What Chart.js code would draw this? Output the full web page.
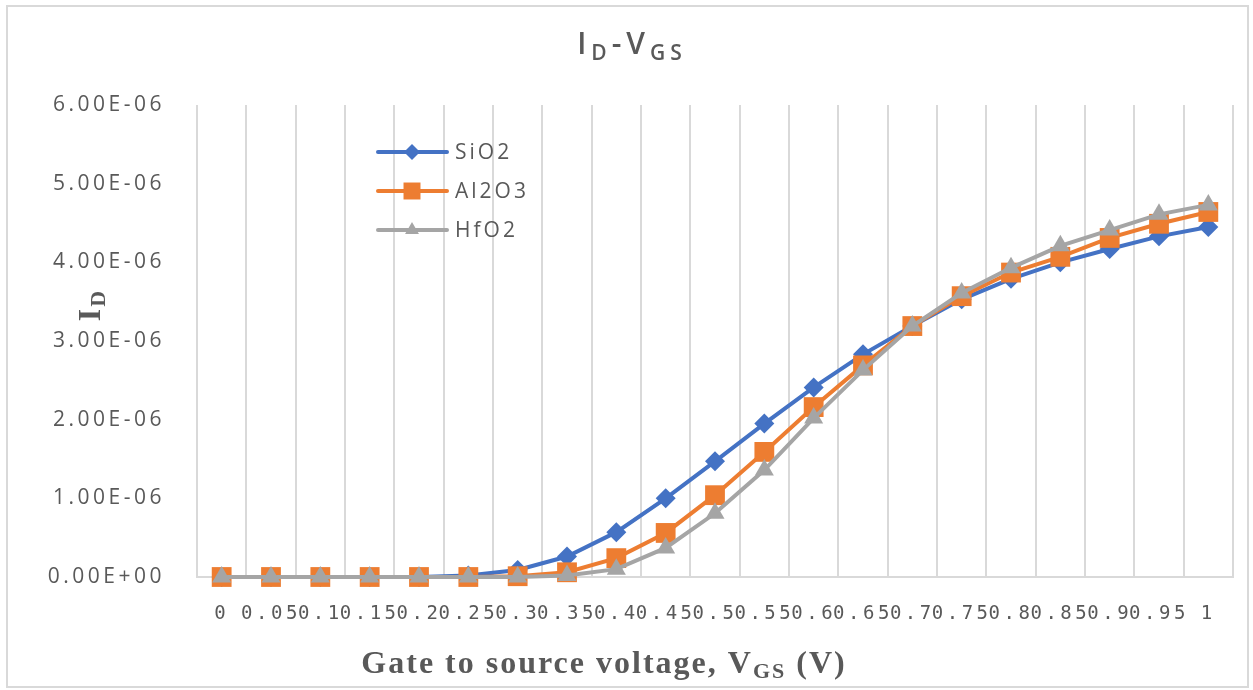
<!DOCTYPE html>
<html>
<head>
<meta charset="utf-8">
<script src="https://cdn.jsdelivr.net/npm/chart.js@4.4.1/dist/chart.umd.min.js"></script>
<style>
  html, body { margin: 0; padding: 0; background: #fff; }
  #wrap { width: 1253px; height: 690px; }
</style>
</head>
<body>
<div id="wrap"><canvas id="chart" width="1253" height="690"></canvas></div>
<script>
// gate voltage steps (V)
const vgs = ['0', '0.05', '0.1', '0.15', '0.2', '0.25', '0.3', '0.35', '0.4', '0.45', '0.5',
             '0.55', '0.6', '0.65', '0.7', '0.75', '0.8', '0.85', '0.9', '0.95', '1'];

// drain current (A) per gate oxide
const sio2 = [0, 0, 0, 0, 0, 0.02e-6, 0.09e-6, 0.26e-6, 0.57e-6, 1.00e-6, 1.47e-6,
              1.95e-6, 2.41e-6, 2.83e-6, 3.19e-6, 3.53e-6, 3.79e-6, 4.00e-6, 4.17e-6, 4.33e-6, 4.45e-6];
const al2o3 = [0, 0, 0, 0, 0, 0, 0.01e-6, 0.06e-6, 0.24e-6, 0.56e-6, 1.04e-6,
               1.59e-6, 2.16e-6, 2.69e-6, 3.19e-6, 3.57e-6, 3.87e-6, 4.07e-6, 4.31e-6, 4.49e-6, 4.64e-6];
const hfo2 = [0, 0, 0, 0, 0, 0, 0, 0.02e-6, 0.10e-6, 0.37e-6, 0.81e-6,
              1.36e-6, 2.02e-6, 2.63e-6, 3.19e-6, 3.61e-6, 3.93e-6, 4.21e-6, 4.41e-6, 4.61e-6, 4.73e-6];

const yTickLabels = ['0.00E+00', '1.00E-06', '2.00E-06', '3.00E-06', '4.00E-06', '5.00E-06', '6.00E-06'];

const textGray = '#595959';
const gridGray = '#d9d9d9';
const blue = '#4472c4', orange = '#ed7d31', silver = '#a5a5a5';

// draws a run of text pieces (for subscripts) centred on cx
function richText(ctx, parts, cx, baseline) {
  let total = 0;
  parts.forEach(p => { ctx.font = p.font; p.w = ctx.measureText(p.text).width; total += p.w; });
  let x = cx - total / 2;
  parts.forEach(p => {
    ctx.font = p.font;
    ctx.fillText(p.text, x, baseline + (p.dy || 0));
    x += p.w;
  });
}

// wide glyph spacing for the axis tick labels
const tickSpacing = {
  id: 'tickSpacing',
  beforeDraw(chart) { chart.ctx.letterSpacing = '3.5px'; },
  beforeDatasetsDraw(chart) { chart.ctx.letterSpacing = '0px'; }
};

const decorations = {
  id: 'decorations',
  afterDraw(chart) {
    const ctx = chart.ctx;
    ctx.save();
    // outer frame
    ctx.strokeStyle = gridGray;
    ctx.lineWidth = 2;
    ctx.strokeRect(7, 6, 1241, 681);

    ctx.fillStyle = textGray;
    ctx.textAlign = 'left';
    ctx.textBaseline = 'alphabetic';

    // title
    ctx.letterSpacing = '5px';
    const tMain = '600 30px "Open Sans"', tSub = '600 21px "Open Sans"';
    richText(ctx, [
      { text: 'I', font: tMain },
      { text: 'D', font: tSub, dy: 6 },
      { text: '-', font: tMain },
      { text: 'V', font: tMain },
      { text: 'GS', font: tSub, dy: 6 }
    ], 632, 54);

    // x axis title
    ctx.letterSpacing = '2px';
    const sMain = 'bold 32px "Liberation Serif"', sSub = 'bold 22px "Liberation Serif"';
    richText(ctx, [
      { text: 'Gate to source voltage, V', font: sMain },
      { text: 'GS', font: sSub, dy: 5 },
      { text: ' (V)', font: sMain }
    ], 604, 673);

    // y axis title
    ctx.save();
    ctx.translate(89, 305);
    ctx.rotate(-Math.PI / 2);
    richText(ctx, [
      { text: 'I', font: sMain },
      { text: 'D', font: sSub, dy: 5 }
    ], 0, 11);
    ctx.restore();

    // legend
    ctx.letterSpacing = '3px';
    ctx.font = '21px "Open Sans"';
    ctx.textBaseline = 'middle';
    const marks = [
      { ds: 0, style: 'rectRot', r: 8 },
      { ds: 1, style: 'rect', r: 12 },
      { ds: 2, style: 'triangle', r: 8 }
    ];
    marks.forEach((m, i) => {
      const ds = chart.data.datasets[m.ds];
      const y = 152 + i * 39;
      ctx.strokeStyle = ds.borderColor;
      ctx.fillStyle = ds.borderColor;
      ctx.lineWidth = 4;
      ctx.lineCap = 'round';
      ctx.beginPath();
      ctx.moveTo(378, y);
      ctx.lineTo(447, y);
      ctx.stroke();
      Chart.helpers.drawPoint(ctx, { pointStyle: m.style, radius: m.r, rotation: 0, borderWidth: 0 }, 412, y);
      ctx.fillStyle = textGray;
      ctx.fillText(ds.label, 455, y + 1);
    });
    ctx.restore();
  }
};

new Chart(document.getElementById('chart'), {
  type: 'line',
  data: {
    labels: vgs,
    datasets: [
      { label: 'SiO2', data: sio2, borderColor: blue, backgroundColor: blue,
        pointStyle: 'rectRot', pointRadius: 10, order: 3, clip: false },
      { label: 'Al2O3', data: al2o3, borderColor: orange, backgroundColor: orange,
        pointStyle: 'rect', pointRadius: 14, order: 2, clip: false },
      { label: 'HfO2', data: hfo2, borderColor: silver, backgroundColor: silver,
        pointStyle: 'triangle', pointRadius: 11, order: 1, clip: false }
    ]
  },
  options: {
    responsive: false,
    animation: false,
    devicePixelRatio: 1,
    layout: { padding: { left: 0, top: 105, right: 20, bottom: 0 } },
    elements: {
      line: { borderWidth: 4, tension: 0, fill: false },
      point: { borderWidth: 0, hoverRadius: 10 }
    },
    plugins: {
      legend: { display: false },
      title: { display: false },
      tooltip: { enabled: false }
    },
    scales: {
      x: {
        type: 'category',
        offset: true,
        afterFit(scale) { scale.height = 113; },
        grid: { display: true, offset: true, color: gridGray, lineWidth: 2, drawTicks: false },
        border: { display: true, color: gridGray, width: 2 },
        ticks: {
          autoSkip: false, maxRotation: 0, minRotation: 0, padding: 26,
          color: textGray, font: { family: '"DejaVu Sans Mono"', size: 19 }
        }
      },
      y: {
        min: 0,
        max: 6e-6,
        afterFit(scale) { scale.width = 197; },
        grid: { display: false },
        border: { display: false },
        ticks: {
          stepSize: 1e-6, padding: 24, color: textGray,
          font: { family: '"Open Sans"', size: 21 },
          callback: (v, i) => yTickLabels[i]
        }
      }
    }
  },
  plugins: [tickSpacing, decorations]
});
</script>
</body>
</html>
